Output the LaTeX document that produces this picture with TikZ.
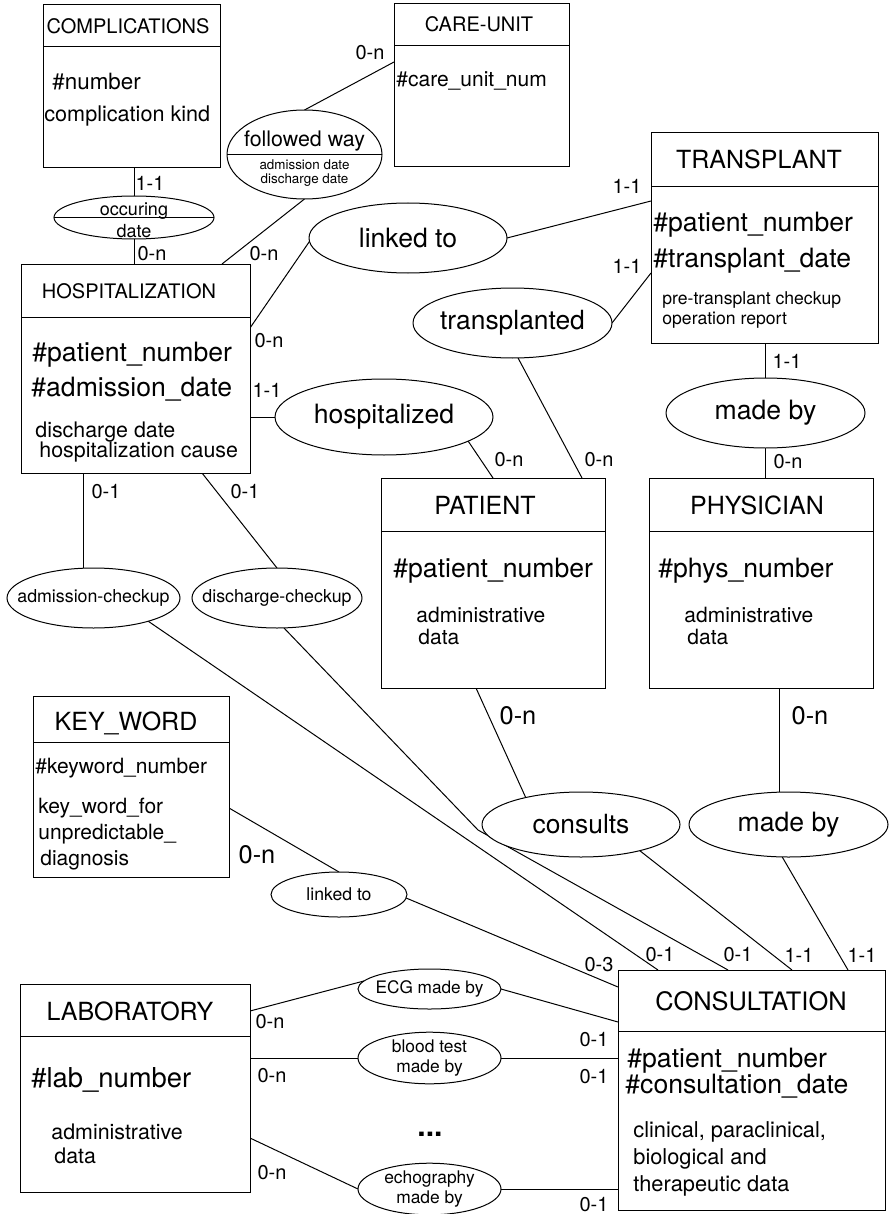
\documentclass[tikz,border=0pt]{standalone}
\usepackage{fontspec}
\setmainfont{TeX Gyre Heros}
\usetikzlibrary{shapes.geometric,backgrounds}
\newcommand{\fsz}[1]{\fontsize{#1}{#1}\selectfont}
\tikzset{
	ent/.style={draw, fill=white, line width=0.5pt, inner sep=0pt, outer sep=0pt},
	rel/.style={draw, ellipse, fill=white, line width=0.5pt, inner xsep=-12pt, inner ysep=0pt, outer sep=0pt, align=center},
	ttl/.style={anchor=base, inner sep=0pt, font=\fsz{12.5}},
	idf/.style={anchor=base west, inner sep=0pt, font=\fsz{13.3}},
	att/.style={anchor=base west, inner sep=0pt, font=\fsz{10.7}},
	txt/.style={anchor=base, inner sep=0pt},
	card/.style={inner sep=0pt, font=\fsz{10}},
	bigcard/.style={inner sep=0pt, font=\fsz{12.7}},
	link/.style={line width=0.5pt}
}
\begin{document}
\begin{tikzpicture}[x=0.5pt, y=-0.5pt]
	\useasboundingbox (0,0) rectangle (891,1214);

	\node[ent, minimum width=88.5pt, minimum height=21pt] (comph) at (131.5,26) {};
	\node[ent, minimum width=88.5pt, minimum height=60.5pt] (compb) at (131.5,107.5) {};
	\node[ttl, font=\fsz{10}] (compt) at (128,34) {COMPLICATIONS};
	\node[att, font=\fsz{11.2}] (comp1) at (52,90) {\#number};
	\node[att, font=\fsz{10.8}] (comp2) at (44,122) {complication kind};

	\node[ent, minimum width=87.5pt, minimum height=21pt] (careh) at (481.5,25) {};
	\node[ent, minimum width=87.5pt, minimum height=60.5pt] (careb) at (481.5,106.5) {};
	\node[ttl, font=\fsz{10}] (caret) at (479,32) {CARE-UNIT};
	\node[att, font=\fsz{10.5}] (care1) at (396,87) {\#care\_unit\_num};

	\node[ent, minimum width=113.5pt, minimum height=27pt] (transh) at (764.5,160) {};
	\node[ent, minimum width=113.5pt, minimum height=78pt] (transb) at (764.5,265) {};
	\node[ttl] (transt) at (759,169) {TRANSPLANT};
	\node[idf] (trans1) at (653,232) {\#patient\_number};
	\node[idf] (trans2) at (653,267) {\#transplant\_date};
	\node[att, font=\fsz{8.8}] (trans3) at (662,304) {pre-transplant checkup};
	\node[att, font=\fsz{8.8}] (trans4) at (662,324) {operation report};

	\node[ent, minimum width=114.5pt, minimum height=26.5pt] (hosph) at (135.5,290.5) {};
	\node[ent, minimum width=114.5pt, minimum height=78pt] (hospb) at (135.5,395) {};
	\node[ttl, font=\fsz{10}] (hospt) at (129,298) {HOSPITALIZATION};
	\node[idf] (hosp1) at (32,361) {\#patient\_number};
	\node[idf] (hosp2) at (31,396) {\#admission\_date};
	\node[att] (hosp3) at (35,437) {discharge date};
	\node[att] (hosp4) at (39,457) {hospitalization cause};

	\node[ent, minimum width=112pt, minimum height=26.5pt] (patih) at (493,504.5) {};
	\node[ent, minimum width=112pt, minimum height=78.5pt] (patib) at (493,609.5) {};
	\node[ttl] (patit) at (485,514) {PATIENT};
	\node[idf] (pati1) at (393,577) {\#patient\_number};
	\node[att, font=\fsz{10.5}] (pati2) at (416,622) {administrative};
	\node[att, font=\fsz{10.5}] (pati3) at (418,644) {data};

	\node[ent, minimum width=112pt, minimum height=26.5pt] (physh) at (761,504.5) {};
	\node[ent, minimum width=112pt, minimum height=78.5pt] (physb) at (761,609.5) {};
	\node[ttl] (physt) at (757,514) {PHYSICIAN};
	\node[idf] (phys1) at (658,577) {\#phys\_number};
	\node[att, font=\fsz{10.5}] (phys2) at (684,622) {administrative};
	\node[att, font=\fsz{10.5}] (phys3) at (687,644) {data};

	\node[ent, minimum width=98pt, minimum height=23pt] (keyh) at (131,719) {};
	\node[ent, minimum width=98pt, minimum height=67.5pt] (keyb) at (131,809.5) {};
	\node[ttl] (keyt) at (126,730) {KEY\_WORD};
	\node[att, font=\fsz{10.5}] (key1) at (35,773) {\#keyword\_number};
	\node[att, font=\fsz{10.5}] (key2) at (38,813) {key\_word\_for};
	\node[att, font=\fsz{10.5}] (key3) at (38,839) {unpredictable\_};
	\node[att, font=\fsz{10.5}] (key4) at (40,865) {diagnosis};

	\node[ent, minimum width=115pt, minimum height=26pt] (labh) at (135,1010) {};
	\node[ent, minimum width=115pt, minimum height=78pt] (labb) at (135,1114) {};
	\node[ttl] (labt) at (130,1020) {LABORATORY};
	\node[idf, font=\fsz{13.7}] (lab1) at (31,1087) {\#lab\_number};
	\node[att] (lab2) at (51,1139) {administrative};
	\node[att] (lab3) at (54,1163) {data};

	\node[ent, minimum width=133.5pt, minimum height=30.5pt] (consh) at (751.5,1000.5) {};
	\node[ent, minimum width=133.5pt, minimum height=89.5pt] (consb) at (751.5,1120.5) {};
	\node[ttl, font=\fsz{12.7}] (const) at (751,1010) {CONSULTATION};
	\node[idf] (cons1) at (627,1067) {\#patient\_number};
	\node[idf] (cons2) at (625,1093) {\#consultation\_date};
	\node[att, font=\fsz{10.9}] (cons3) at (633,1137) {clinical, paraclinical,};
	\node[att, font=\fsz{10.9}] (cons4) at (633,1164) {biological and};
	\node[att, font=\fsz{10.9}] (cons5) at (633,1191) {therapeutic data};

	\node[rel, minimum width=80pt, minimum height=21.5pt] (occur) at (134,217.5) {};
	\draw[link] (occur.west) -- (occur.east);
	\node[txt, font=\fsz{9}] (occur1) at (134,215) {occuring};
	\node[txt, font=\fsz{9}] (occur2) at (134,237) {date};

	\node[rel, minimum width=77.5pt, minimum height=44.5pt] (follow) at (304.5,154.5) {};
	\draw[link] (follow.west) -- (follow.east);
	\node[txt, font=\fsz{10.7}] (follow1) at (304.5,147) {followed way};
	\node[txt, font=\fsz{6.7}] (follow2) at (304.5,170) {admission date};
	\node[txt, font=\fsz{6.7}] (follow3) at (304.5,184) {discharge date};

	\node[rel, minimum width=99pt, minimum height=35pt, font=\fsz{13.3}] (linkT) at (408,238) {linked to};
	\node[rel, minimum width=99.5pt, minimum height=35pt, font=\fsz{13.2}] (transp) at (512.5,323) {transplanted};
	\node[rel, minimum width=109pt, minimum height=38pt, font=\fsz{13.3}] (hzd) at (384,417) {hospitalized};
	\node[rel, minimum width=99.5pt, minimum height=35pt, font=\fsz{13.3}] (madeT) at (765.5,413) {made by};
	\node[rel, minimum width=86.5pt, minimum height=30pt, font=\fsz{8.9}] (admck) at (93.5,598) {admission-checkup};
	\node[rel, minimum width=85pt, minimum height=30pt, font=\fsz{8.9}] (disck) at (277,598) {discharge-checkup};
	\node[rel, minimum width=99pt, minimum height=32.5pt, font=\fsz{13.2}] (consults) at (581,824.5) {consults};
	\node[rel, minimum width=99.5pt, minimum height=32.5pt, font=\fsz{13.3}] (madeC) at (788.5,824.5) {made by};
	\node[rel, minimum width=68pt, minimum height=22.5pt, font=\fsz{8.8}] (linkK) at (339,894.5) {linked to};
	\node[rel, minimum width=71.5pt, minimum height=20pt, font=\fsz{8.6}] (ecg) at (429.5,989) {ECG made by};
	\node[rel, minimum width=71.5pt, minimum height=25pt, font=\fontsize{8.7}{10}\selectfont] (blood) at (429.5,1058) {blood test\\made by};
	\node[rel, minimum width=71.5pt, minimum height=24pt, font=\fontsize{8.7}{10}\selectfont] (echo) at (429.5,1189) {echography\\made by};
	\node[inner sep=0pt, font=\fsz{15}\bfseries] (dots) at (430,1134) {...};

	\coordinate (bend) at (478,830);

	\begin{scope}[on background layer]
		\draw[link] (occur.north) -- (occur.north |- compb.south);
		\draw[link] (occur.south) -- (occur.south |- hosph.north);
		\draw[link] (follow.north) -- (careb.west |- 0,62);
		\draw[link] (follow.south) -- (hosph.north -| 222,0);
		\draw[link] (linkT.182) -- (hospb.east |- 0,328);
		\draw[link] (linkT.east) -- (transb.west |- 0,201);
		\draw[link] (transp.east) -- (transb.west |- 0,273);
		\draw[link] (transp.279) -- (patih.north -| 582,0);
		\draw[link] (hzd.344) -- (patih.north -| 493,0);
		\draw[link] (hzd.west) -- (hzd.west -| hospb.east);
		\draw[link] (madeT.north) -- (madeT.north |- transb.south);
		\draw[link] (madeT.south) -- (madeT.south |- physh.north);
		\draw[link] (admck.109) -- (admck.109 |- hospb.south);
		\draw[link] (disck.north) -- (hospb.south -| 202,0);
		\draw[link] (admck.337) -- (consh.north -| 658,0);
		\draw[link] (disck.283) -- (bend) -- (consh.north -| 728,0);
		\draw[link] (consults.336) -- (consh.north -| 792,0);
		\draw[link] (madeC.259) -- (consh.north -| 848,0);
		\draw[link] (consults.154) -- (patib.south -| 476,0);
		\draw[link] (madeC.105) -- (madeC.105 |- physb.south);
		\draw[link] (linkK.north) -- (keyb.east |- 0,808);
		\draw[link] (linkK.357) -- (consh.west |- 0,987);
		\draw[link] (ecg.173) -- (labh.east |- 0,1011);
		\draw[link] (ecg.east) -- (consh.west |- 0,1022);
		\draw[link] (blood.west) -- (blood.west -| labb.east);
		\draw[link] (blood.east) -- (blood.east -| consb.west);
		\draw[link] (echo.west) -- (labb.east |- 0,1138);
		\draw[link] (echo.east) -- (echo.east -| consb.west);
	\end{scope}

	\node[card] (c-comp) at (150,183) {1-1};
	\node[card] (c-occur) at (152,254) {0-n};
	\node[card] (c-care) at (370,53) {0-n};
	\node[card] (c-follow) at (264,254) {0-n};
	\node[card] (c-linkh) at (269,341) {0-n};
	\node[card] (c-linkt) at (627,186) {1-1};
	\node[card] (c-transt) at (627,266) {1-1};
	\node[card] (c-transp) at (599,460) {0-n};
	\node[card] (c-hzdp) at (509,460) {0-n};
	\node[card] (c-hzdh) at (267,390) {1-1};
	\node[card] (c-madet) at (787,361) {1-1};
	\node[card] (c-madep) at (788,462) {0-n};
	\node[card] (c-admh) at (106,492) {0-1};
	\node[card] (c-dish) at (245,492) {0-1};
	\node[card] (c-admc) at (660,955) {0-1};
	\node[card] (c-disc) at (738,955) {0-1};
	\node[card] (c-consc) at (799,955) {1-1};
	\node[card] (c-madec) at (862,955) {1-1};
	\node[bigcard] (c-consp) at (518,716) {0-n};
	\node[bigcard] (c-madeph) at (810,716) {0-n};
	\node[bigcard] (c-keyw) at (257,855) {0-n};
	\node[card] (c-linkk) at (599,965) {0-3};
	\node[card] (c-ecgl) at (270,1022) {0-n};
	\node[card] (c-ecgc) at (594,1040) {0-1};
	\node[card] (c-bloodl) at (272,1076) {0-n};
	\node[card] (c-bloodc) at (594,1077) {0-1};
	\node[card] (c-echol) at (272,1173) {0-n};
	\node[card] (c-echoc) at (594,1205) {0-1};
\end{tikzpicture}
\end{document}
